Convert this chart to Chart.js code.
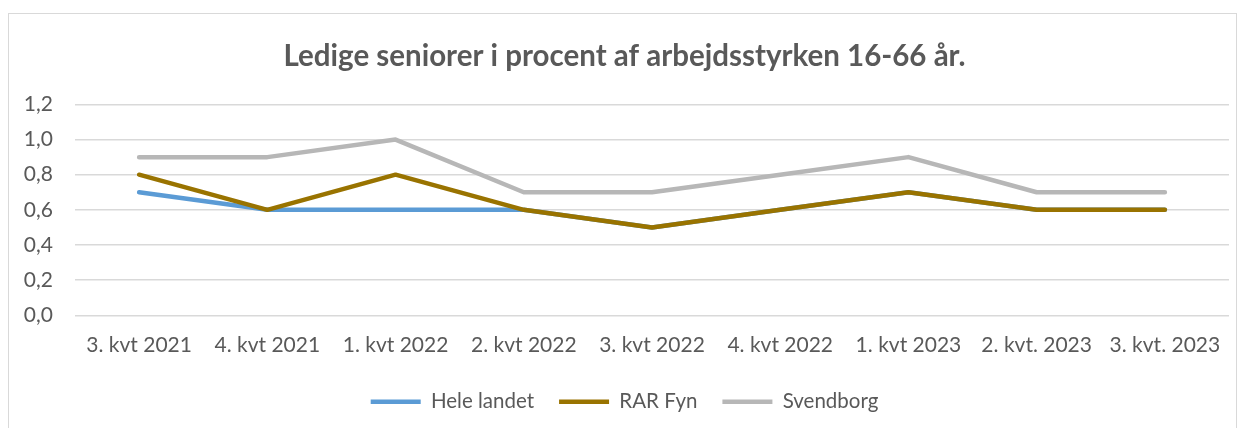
<!DOCTYPE html>
<html>
<head>
<meta charset="utf-8">
<script src="https://cdn.jsdelivr.net/npm/chart.js@4.4.1/dist/chart.umd.min.js"></script>
<style>
  body { margin: 0; background: #fff; }
  .wrap { position: relative; width: 1246px; height: 428px; overflow: hidden; }
  .ramme { position: absolute; left: 8px; top: 13px; width: 1227px; height: 440px; border: 1.5px solid #d9d9d9; pointer-events: none; }
</style>
</head>
<body>
<div class="wrap">
  <canvas class="grafico" width="1246" height="428"></canvas>
  <div class="ramme"></div>
</div>
<script>
const kvartaler = ["3. kvt 2021", "4. kvt 2021", "1. kvt 2022", "2. kvt 2022", "3. kvt 2022", "4. kvt 2022", "1. kvt 2023", "2. kvt. 2023", "3. kvt. 2023"];
const heleLandet = [0.7, 0.6, 0.6, 0.6, 0.5, 0.6, 0.7, 0.6, 0.6];
const rarFyn = [0.8, 0.6, 0.8, 0.6, 0.5, 0.6, 0.7, 0.6, 0.6];
const svendborg = [0.9, 0.9, 1.0, 0.7, 0.7, 0.8, 0.9, 0.7, 0.7];
const yTicks = [0, 0.2, 0.4, 0.6, 0.8, 1.0, 1.2];

const canvas = document.querySelector('.grafico');
const fontFamily = "Lato, 'Noto Sans', sans-serif";

const linje = (label, data, farve, order) => ({
    label: label,
    data: data,
    borderColor: farve,
    backgroundColor: farve,
    borderWidth: 4.5,
    borderCapStyle: 'round',
    borderJoinStyle: 'round',
    pointRadius: 0,
    pointStyle: 'line',
    tension: 0,
    order: order
});

const config = {
    type: 'line',
    data: {
        labels: kvartaler,
        datasets: [
            linje("Hele landet", heleLandet, "#5b9bd5", 3),
            linje("RAR Fyn", rarFyn, "#997300", 2),
            linje("Svendborg", svendborg, "#b7b7b7", 1)
        ]
    },
    options: {
        responsive: false,
        animation: false,
        layout: { padding: { left: 20, right: 17, top: 39, bottom: 6 } },
        plugins: {
            title: {
                display: true,
                text: "Ledige seniorer i procent af arbejdsstyrken 16-66 år.",
                color: "#595959",
                font: { family: fontFamily, size: 29.5, weight: 'bold' },
                padding: { top: 0, bottom: 30 }
            },
            legend: {
                position: 'bottom',
                labels: {
                    usePointStyle: true,
                    pointStyleWidth: 50,
                    boxHeight: 5,
                    color: "#595959",
                    font: { family: fontFamily, size: 20.5 },
                    padding: 25,
                    sort: (a, b) => a.datasetIndex - b.datasetIndex
                }
            },
            tooltip: { enabled: false }
        },
        scales: {
            x: {
                offset: true,
                grid: { display: false },
                border: { display: false },
                ticks: { color: "#595959", font: { family: fontFamily, size: 21 }, padding: 9, maxRotation: 0 }
            },
            y: {
                min: 0,
                max: 1.2,
                afterBuildTicks: (scale) => { scale.ticks = yTicks.map(v => ({ value: v })); },
                afterFit: (scale) => { scale.width = 55; },
                grid: { color: "#d9d9d9", lineWidth: 1.5, drawTicks: false },
                border: { display: false },
                ticks: {
                    color: "#595959",
                    font: { family: fontFamily, size: 21 },
                    padding: 22,
                    callback: (v) => v.toFixed(1).replace('.', ',')
                }
            }
        }
    }
};

new Chart(canvas, config);
</script>
</body>
</html>
